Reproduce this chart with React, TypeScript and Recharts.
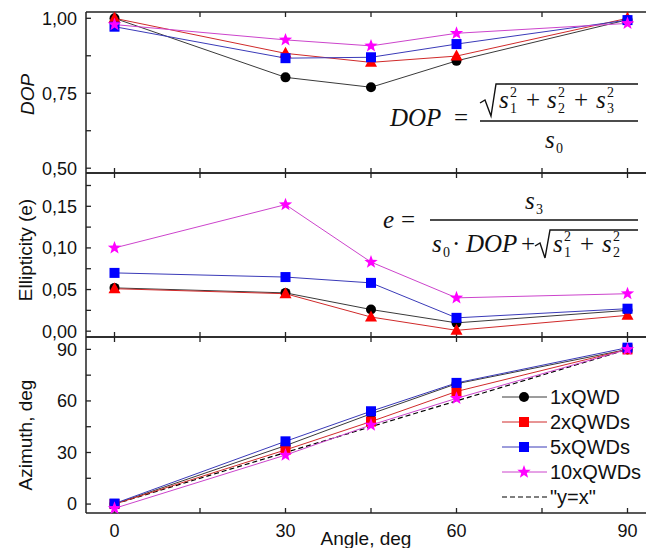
import React from "react";
import { Legend, Line, LineChart, XAxis, YAxis } from "recharts";

// angles where the measurements were taken
const angles = [0, 30, 45, 60, 90];
const seriesNames = ["1xQWD", "2xQWDs", "5xQWDs", "10xQWDs", '"y=x"'];

// degree of polarisation
const dop1 = [1.0, 0.803, 0.77, 0.858, 0.995];
const dop2 = [1.0, 0.883, 0.853, 0.874, 1.0];
const dop5 = [0.972, 0.867, 0.87, 0.914, 0.994];
const dop10 = [0.979, 0.928, 0.908, 0.95, 0.983];

// ellipticity
const ell1 = [0.052, 0.046, 0.026, 0.01, 0.025];
const ell2 = [0.051, 0.045, 0.017, 0.001, 0.019];
const ell5 = [0.07, 0.065, 0.058, 0.016, 0.027];
const ell10 = [0.1, 0.152, 0.083, 0.04, 0.045];

// azimuth, deg
const az1 = [0, 34, 52.5, 70, 90];
const az2 = [0, 31.5, 48, 65.5, 90];
const az5 = [0.3, 36.5, 54, 70.5, 91];
const az10 = [-2.5, 28.5, 46, 61.5, 90];
const azIdeal = [0, 30, 45, 60, 90];

// ticks (minor ones get no label)
const xTicks = [0, 15, 30, 45, 60, 75, 90];
const xLabelTicks = [0, 30, 60, 90];
const dopTicks = [0.5, 0.625, 0.75, 0.875, 1.0];
const dopLabelTicks = [0.5, 0.75, 1.0];
const ellTicks = [0, 0.025, 0.05, 0.075, 0.1, 0.125, 0.15, 0.175];
const ellLabelTicks = [0, 0.05, 0.1, 0.15];
const azTicks = [0, 15, 30, 45, 60, 75, 90];
const azLabelTicks = [0, 30, 60, 90];

const dopData = angles.map((a, i) => ({ angle: a, s1: dop1[i], s2: dop2[i], s5: dop5[i], s10: dop10[i] }));
const ellData = angles.map((a, i) => ({ angle: a, s1: ell1[i], s2: ell2[i], s5: ell5[i], s10: ell10[i] }));
const azData = angles.map((a, i) => ({ angle: a, s1: az1[i], s2: az2[i], s5: az5[i], s10: az10[i], ideal: azIdeal[i] }));

const SANS = "Liberation Sans, Arial, sans-serif";
const SERIF = "Liberation Serif, Times New Roman, serif";
const tickFont = { fontSize: 18, fill: "#111", fontFamily: SANS };
const AXIS = "#222";

const isLabel = (v: number, list: number[]) => list.some((t) => Math.abs(t - v) < 1e-9);

const starPoints = (cx: number, cy: number, ro: number, ri: number) => {
  const pts: string[] = [];
  for (let k = 0; k < 10; k++) {
    const r = k % 2 === 0 ? ro : ri;
    const a = -Math.PI / 2 + (k * Math.PI) / 5;
    pts.push(`${cx + r * Math.cos(a)},${cy + r * Math.sin(a)}`);
  }
  return pts.join(" ");
};

type Shape = "circle" | "square" | "triangle" | "star";

function Marker({ shape, cx, cy, color }: { shape: Shape; cx: number; cy: number; color: string }) {
  if (shape === "circle") return <circle cx={cx} cy={cy} r={5} fill={color} />;
  if (shape === "square") return <rect x={cx - 5} y={cy - 5} width={10} height={10} fill={color} />;
  if (shape === "triangle")
    return <polygon points={`${cx},${cy - 6.5} ${cx - 6},${cy + 4.5} ${cx + 6},${cy + 4.5}`} fill={color} />;
  return <polygon points={starPoints(cx, cy, 7, 2.9)} fill={color} />;
}

const dot = (shape: Shape, color: string) => (p: any) => {
  if (p.cx == null || p.cy == null) return <g key={p.index} />;
  return (
    <g key={p.index}>
      <Marker shape={shape} cx={p.cx} cy={p.cy} color={color} />
    </g>
  );
};

const series = [
  { key: "s1", line: "#3a3a3a", mark: "#000000" },
  { key: "s2", line: "#d02a2a", mark: "#ff0000" },
  { key: "s5", line: "#3a3ab8", mark: "#0000ff" },
  { key: "s10", line: "#cc44cc", mark: "#ff00ff" },
];

function yTitle(text: string, cx: number, dy: number, italic: boolean) {
  return (props: any) => {
    const vb = props.viewBox || {};
    const cy = vb.y + vb.height / 2 + dy;
    return (
      <text
        x={cx}
        y={cy}
        transform={`rotate(-90, ${cx}, ${cy})`}
        textAnchor="middle"
        dominantBaseline="central"
        fontFamily={SANS}
        fontSize={19}
        fontStyle={italic ? "italic" : "normal"}
        fill="#111"
      >
        {text}
      </text>
    );
  };
}

function xTitle(props: any) {
  const vb = props.viewBox || {};
  return (
    <text x={366} y={vb.y + 25} textAnchor="middle" dominantBaseline="central" fontFamily={SANS} fontSize={19} fill="#111">
      Angle, deg
    </text>
  );
}

type PanelProps = {
  data: any[];
  top: number;
  bottom: number;
  domain: [number, number];
  ticks: number[];
  labelTicks: number[];
  fmt: (v: number) => string;
  shapes: Shape[];
  title: (p: any) => React.ReactElement;
  showX?: boolean;
  children?: React.ReactNode;
};

function Panel({ data, top, bottom, domain, ticks, labelTicks, fmt, shapes, title, showX, children }: PanelProps) {
  return (
    <div style={{ position: "absolute", left: 0, top: 0 }}>
      <LineChart width={656} height={548} data={data} margin={{ top: top - 1, bottom: 548 - bottom - 1, left: 0, right: 0 }}>
        <XAxis
          xAxisId="top"
          orientation="top"
          dataKey="angle"
          type="number"
          domain={[-5, 95]}
          ticks={xTicks}
          height={1}
          tickSize={-5}
          tickFormatter={() => ""}
          stroke={AXIS}
          axisLine={{ stroke: AXIS, strokeWidth: 1.5 }}
          tickLine={{ stroke: AXIS, strokeWidth: 1.3 }}
        />
        <XAxis
          dataKey="angle"
          type="number"
          domain={[-5, 95]}
          ticks={xTicks}
          height={1}
          tickSize={-5}
          tickMargin={16}
          interval={0}
          stroke={AXIS}
          tick={tickFont}
          tickFormatter={(v: number) => (showX && isLabel(v, xLabelTicks) ? String(v) : "")}
          axisLine={{ stroke: AXIS, strokeWidth: 1.5 }}
          tickLine={{ stroke: AXIS, strokeWidth: 1.3 }}
          label={showX ? { content: xTitle } : undefined}
        />
        <YAxis
          type="number"
          domain={domain}
          ticks={ticks}
          width={86}
          tickSize={-5}
          tickMargin={14}
          interval={0}
          stroke={AXIS}
          tick={tickFont}
          tickFormatter={(v: number) => (isLabel(v, labelTicks) ? fmt(v) : "")}
          axisLine={{ stroke: AXIS, strokeWidth: 1.5 }}
          tickLine={{ stroke: AXIS, strokeWidth: 1.3 }}
          label={{ content: title }}
        />
        {children}
        {series.map((s, i) => (
          <Line
            key={s.key}
            dataKey={s.key}
            stroke={s.line}
            strokeWidth={1}
            dot={dot(shapes[i], s.mark)}
            activeDot={false}
            isAnimationActive={false}
          />
        ))}
      </LineChart>
    </div>
  );
}

const legendShapes: (Shape | null)[] = ["circle", "square", "square", "star", null];

function LegendBox() {
  return (
    <svg width={150} height={130} style={{ display: "block" }}>
      {seriesNames.map((name, i) => {
        const y = 14 + i * 25;
        const s = series[i];
        return (
          <g key={name}>
            {s ? (
              <>
                <line x1={2} x2={47} y1={y} y2={y} stroke={s.line} strokeWidth={1} />
                <Marker shape={legendShapes[i] as Shape} cx={24} cy={y} color={s.mark} />
              </>
            ) : (
              <line x1={2} x2={47} y1={y} y2={y} stroke="#000" strokeWidth={1.2} strokeDasharray="5 3" />
            )}
            <text x={50} y={y} dominantBaseline="central" fontFamily={SANS} fontSize={20} fill="#111">
              {name}
            </text>
          </g>
        );
      })}
    </svg>
  );
}

// s with stacked subscript and optional superscript, at absolute positions
function SubSup({ x, y, sub, sup }: { x: number; y: number; sub: string; sup?: string }) {
  return (
    <>
      <tspan x={x} y={y} fontStyle="italic" fontSize={25}>s</tspan>
      {sup ? <tspan x={x + 11} y={y - 11} fontSize={14}>{sup}</tspan> : null}
      <tspan x={x + 11} y={y + 5} fontSize={14}>{sub}</tspan>
    </>
  );
}

function Formulas() {
  const f = { fontFamily: SERIF, fill: "#111" };
  return (
    <svg width={646} height={548} style={{ position: "absolute", left: 0, top: 0, pointerEvents: "none" }}>
      {/* DOP = sqrt(s1^2+s2^2+s3^2)/s0 */}
      <text {...f} fontSize={25}>
        <tspan x={390} y={126} fontStyle="italic">DOP</tspan>
        <tspan x={454} y={126}>=</tspan>
      </text>
      <line x1={480} x2={638} y1={121} y2={121} stroke="#111" strokeWidth={1.6} />
      <path d="M480,103 L485,100 L491,116 L496,84 L638,84" fill="none" stroke="#111" strokeWidth={1.4} />
      <text {...f}>
        <SubSup x={499} y={108} sub="1" sup="2" />
        <tspan x={526} y={108} fontSize={25}>+</tspan>
        <SubSup x={547} y={108} sub="2" sup="2" />
        <tspan x={574} y={108} fontSize={25}>+</tspan>
        <SubSup x={596} y={108} sub="3" sup="2" />
      </text>
      <text {...f}>
        <SubSup x={545} y={148} sub="0" />
      </text>

      {/* e = s3 / (s0 * DOP + sqrt(s1^2+s2^2)) */}
      <text {...f} fontSize={25}>
        <tspan x={383} y={228} fontStyle="italic">e</tspan>
        <tspan x={401} y={228}>=</tspan>
      </text>
      <line x1={430} x2={638} y1={220} y2={220} stroke="#111" strokeWidth={1.6} />
      <text {...f}>
        <SubSup x={525} y={209} sub="3" />
      </text>
      <text {...f}>
        <SubSup x={432} y={252} sub="0" />
        <tspan x={452} y={252} fontSize={25}>·</tspan>
        <tspan x={466} y={252} fontSize={25} fontStyle="italic">DOP</tspan>
        <tspan x={521} y={252} fontSize={25}>+</tspan>
      </text>
      <path d="M535,246 L540,243 L545,258 L550,230 L638,230" fill="none" stroke="#111" strokeWidth={1.4} />
      <text {...f}>
        <SubSup x={553} y={252} sub="1" sup="2" />
        <tspan x={580} y={252} fontSize={25}>+</tspan>
        <SubSup x={602} y={252} sub="2" sup="2" />
      </text>
    </svg>
  );
}

const comma2 = (v: number) => v.toFixed(2).replace(".", ",");

export default function App() {
  return (
    <div
      style={{
        position: "absolute",
        left: 0,
        top: 0,
        width: 646,
        height: 548,
        overflow: "hidden",
        background: "#fff",
      }}
    >
      <Panel
        data={dopData}
        top={12}
        bottom={173}
        domain={[0.484, 1.021]}
        ticks={dopTicks}
        labelTicks={dopLabelTicks}
        fmt={comma2}
        shapes={["circle", "triangle", "square", "star"]}
        title={yTitle("DOP", 27, 2, true)}
      />
      <Panel
        data={ellData}
        top={173}
        bottom={337}
        domain={[-0.007, 0.19]}
        ticks={ellTicks}
        labelTicks={ellLabelTicks}
        fmt={comma2}
        shapes={["circle", "triangle", "square", "star"]}
        title={yTitle("Ellipticity (e)", 25, -5, false)}
      />
      <Panel
        data={azData}
        top={337}
        bottom={513}
        domain={[-5.2, 97.2]}
        ticks={azTicks}
        labelTicks={azLabelTicks}
        fmt={(v) => String(v)}
        shapes={["circle", "square", "square", "star"]}
        title={yTitle("Azimuth, deg", 25, 10, false)}
        showX
      >
        <Line
          dataKey="ideal"
          stroke="#000"
          strokeWidth={1.2}
          strokeDasharray="5 3"
          dot={false}
          activeDot={false}
          isAnimationActive={false}
        />
        <Legend
          layout="horizontal"
          verticalAlign="middle"
          wrapperStyle={{ left: 500, top: 383, width: 150 }}
          content={() => <LegendBox />}
        />
      </Panel>
      <Formulas />
    </div>
  );
}
